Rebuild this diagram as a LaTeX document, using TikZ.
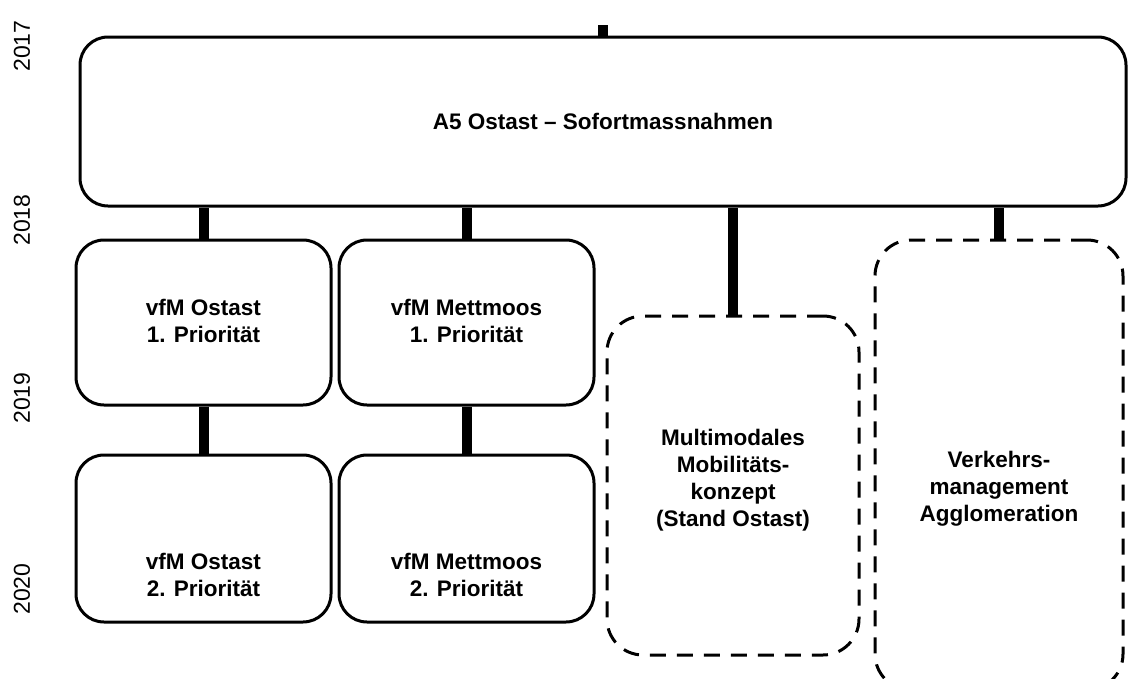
\documentclass[tikz,border=0pt]{standalone}
\usepackage{fontspec}
\setmainfont{Liberation Sans}
\usepackage{tikz}

\begin{document}
\begin{tikzpicture}[x=1pt, y=-1pt,
    box/.style={draw, line width=3pt, rounded corners=28pt, inner sep=0pt},
    dbox/.style={box, rounded corners=36pt, dash pattern=on 16pt off 11pt},
    txt/.style={align=center, font=\bfseries\fontsize{22.5}{27}\selectfont},
    conn/.style={line width=10pt},
    year/.style={rotate=90, font=\fontsize{23}{23}\selectfont}]
          \clip (0,0) rectangle (1128,678);

          \foreach \y/\yr in {46/2017, 220/2018, 398/2019, 589/2020}{%
            \node[year] (y\yr) at (22,\y) {\yr};
          }

          \node[box, minimum width=1046pt, minimum height=169pt] (top) at (603,121.5) {};
          \node[box, minimum width=255pt, minimum height=165pt] (b1) at (203.5,322.5) {};
          \node[box, minimum width=255pt, minimum height=165pt] (b2) at (466.5,322.5) {};
          \node[box, minimum width=255pt, minimum height=167pt] (c1) at (203.5,538.5) {};
          \node[box, minimum width=255pt, minimum height=167pt] (c2) at (466.5,538.5) {};
          \node[dbox, minimum width=252pt, minimum height=339pt] (b3) at (733,485.5) {};
          \node[dbox, minimum width=248pt, minimum height=450pt] (b4) at (999,465) {};

          \node[txt] (ttop) at (top) {A5 Ostast -- Sofortmassnahmen};
          \node[txt] (tb1) at (203.5,321) {vfM Ostast\\1. Priorität};
          \node[txt] (tb2) at (466.5,321) {vfM Mettmoos\\1. Priorität};
          \node[txt] (tc1) at (203.5,575) {vfM Ostast\\2. Priorität};
          \node[txt] (tc2) at (466.5,575) {vfM Mettmoos\\2. Priorität};
          \node[txt] (tb3) at (733,480) {Multimodales\\Mobilitäts-\\konzept\\(Stand Ostast)};
          \node[txt] (tb4) at (999,489) {Verkehrs-\\management\\Agglomeration};

          \coordinate (stub) at (603,25);
          \draw[conn] (top.north) -- (stub);
          \foreach \b in {b1,b2,b3,b4}{
            \draw[conn] (\b.north) -- (\b.north |- top.south);
          }
          \draw[conn] (b1.south) -- (c1.north);
          \draw[conn] (b2.south) -- (c2.north);
        \end{tikzpicture}
\end{document}
